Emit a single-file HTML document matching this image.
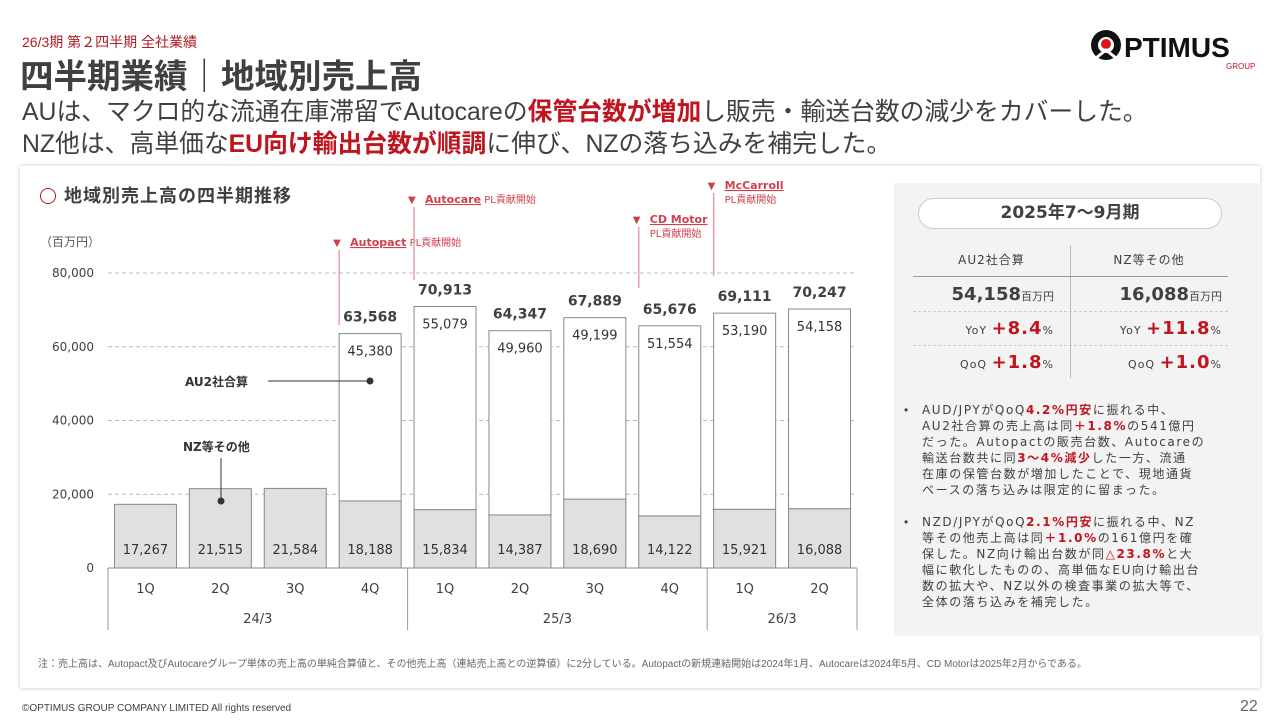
<!DOCTYPE html>
<html><head><meta charset="utf-8">
<style>
*{margin:0;padding:0;box-sizing:border-box}
body{width:1280px;height:720px;background:#fff;position:relative;overflow:hidden;font-family:"Liberation Sans","Noto Sans CJK JP",sans-serif;color:#404040}
.abs{position:absolute;white-space:nowrap}
.red{color:#c0141e;font-weight:bold}
#card{position:absolute;left:20px;top:166px;width:1240px;height:522px;background:#fff;box-shadow:0 0 4px rgba(0,0,0,.25)}
#panel{position:absolute;left:894px;top:183px;width:368px;height:453px;background:#f3f3f3}
.bul{font-family:"DejaVu Sans","Noto Sans CJK JP",sans-serif;font-size:12px;line-height:16px;letter-spacing:1.6px;color:#404040;position:absolute;left:922px;white-space:nowrap}
.bul .r{color:#c0141e;font-weight:bold}
.dv{font-family:"DejaVu Sans","Noto Sans CJK JP",sans-serif}
</style></head><body>
<div class="abs" style="left:22px;top:32px;font-size:14px;color:#b01c26">26/3期 第２四半期 全社業績</div>
<div class="abs" style="left:20px;top:49px;font-size:33.5px;font-weight:bold;color:#404040">四半期業績｜地域別売上高</div>
<div class="abs" style="left:22px;top:92px;font-size:24.8px;color:#404040">AUは、マクロ的な流通在庫滞留でAutocareの<span class="red">保管台数が増加</span>し販売・輸送台数の減少をカバーした。</div>
<div class="abs" style="left:22px;top:124px;font-size:24.8px;color:#404040">NZ他は、高単価な<span class="red">EU向け輸出台数が順調</span>に伸び、NZの落ち込みを補完した。</div>
<div class="abs" style="left:1088px;top:28px;">
 <svg width="170" height="44"><circle cx="18" cy="17" r="15" fill="#111"/><circle cx="18" cy="17" r="8" fill="#fff"/><circle cx="18" cy="16" r="5" fill="#e0101a"/><path d="M8 30 L18 22 L28 30" stroke="#fff" stroke-width="3" fill="none"/>
 <text x="36" y="29" font-family="Liberation Sans" font-weight="bold" font-size="28" fill="#111">PTIMUS</text>
 <text x="138" y="41" font-family="Liberation Sans" font-size="8" fill="#c0141e">GROUP</text></svg></div>
<div id="card"></div>
<div id="panel"></div>
<svg id="chart" class="abs" style="left:0;top:0" width="1280" height="720"></svg>
<div class="abs" style="left:40px;top:182px;font-size:18px;font-weight:bold;letter-spacing:1px;color:#404040"><span style="display:inline-block;width:16px;height:16px;border:1.5px solid #c0141e;border-radius:50%;vertical-align:-2px;margin-right:8px"></span>地域別売上高の四半期推移</div>
<div class="abs dv" style="left:918px;top:198px;width:304px;height:31px;border:1px solid #ccc;border-radius:16px;background:#fff;text-align:center;font-size:17px;font-weight:bold;line-height:29px;color:#404040">2025年7〜9月期</div>
<div class="abs" style="left:1070px;top:245px;width:1px;height:133px;background:#bbb"></div>
<div class="abs" style="left:913px;top:276px;width:315px;height:1px;background:#999"></div>
<div class="abs" style="left:913px;top:311px;width:315px;border-top:1px dashed #ccc"></div>
<div class="abs" style="left:913px;top:345px;width:315px;border-top:1px dashed #ccc"></div>
<div class="abs dv" style="left:913px;top:251px;width:157px;text-align:center;font-size:12px;letter-spacing:1px">AU2社合算</div>
<div class="abs dv" style="left:1070px;top:251px;width:158px;text-align:center;font-size:12px;letter-spacing:1px">NZ等その他</div>
<div class="abs dv" style="right:226px;top:284px;font-size:18px;font-weight:bold">54,158<span style="font-size:11px;font-weight:normal">百万円</span></div>
<div class="abs dv" style="right:58px;top:284px;font-size:18px;font-weight:bold">16,088<span style="font-size:11px;font-weight:normal">百万円</span></div>
<div class="abs dv" style="right:226px;top:318px;font-size:11px;letter-spacing:1px">YoY <span class="red" style="font-size:18px">+8.4</span>%</div>
<div class="abs dv" style="right:58px;top:318px;font-size:11px;letter-spacing:1px">YoY <span class="red" style="font-size:18px">+11.8</span>%</div>
<div class="abs dv" style="right:226px;top:352px;font-size:11px;letter-spacing:1px">QoQ <span class="red" style="font-size:18px">+1.8</span>%</div>
<div class="abs dv" style="right:58px;top:352px;font-size:11px;letter-spacing:1px">QoQ <span class="red" style="font-size:18px">+1.0</span>%</div>
<div class="abs" style="left:904px;top:403px;font-size:12px">•</div>
<div class="bul" style="top:402px">AUD/JPYがQoQ<span class="r">4.2%円安</span>に振れる中、<br>AU2社合算の売上高は同<span class="r">＋1.8%</span>の541億円<br>だった。Autopactの販売台数、Autocareの<br>輸送台数共に同<span class="r">3〜4%減少</span>した一方、流通<br>在庫の保管台数が増加したことで、現地通貨<br>ベースの落ち込みは限定的に留まった。</div>
<div class="abs" style="left:904px;top:515px;font-size:12px">•</div>
<div class="bul" style="top:514px">NZD/JPYがQoQ<span class="r">2.1%円安</span>に振れる中、NZ<br>等その他売上高は同<span class="r">＋1.0%</span>の161億円を確<br>保した。NZ向け輸出台数が同<span class="r">△23.8%</span>と大<br>幅に軟化したものの、高単価なEU向け輸出台<br>数の拡大や、NZ以外の検査事業の拡大等で、<br>全体の落ち込みを補完した。</div>
<div class="abs" style="left:38px;top:655px;font-size:10px;color:#666">注：売上高は、Autopact及びAutocareグループ単体の売上高の単純合算値と、その他売上高（連結売上高との逆算値）に2分している。Autopactの新規連結開始は2024年1月、Autocareは2024年5月、CD Motorは2025年2月からである。</div>
<div class="abs" style="left:22px;top:703px;font-size:10px;color:#404040">©OPTIMUS GROUP COMPANY LIMITED All rights reserved</div>
<div class="abs" style="left:1240px;top:698px;font-size:16px;color:#666">22</div>
<script>
const quarters=["1Q","2Q","3Q","4Q","1Q","2Q","3Q","4Q","1Q","2Q"];
const nzValues=[17267,21515,21584,18188,15834,14387,18690,14122,15921,16088];
const auValues=[0,0,0,45380,55079,49960,49199,51554,53190,54158];
const totals=[17267,21515,21584,63568,70913,64347,67889,65676,69111,70247];
const yTicks=[0,20000,40000,60000,80000];
const fiscalYears=["24/3","25/3","26/3"];
const fyCounts=[4,4,2];
const events=[["Autopact",3],["Autocare",4],["CD Motor",7],["McCarroll",8]];
const NS="http://www.w3.org/2000/svg";
const svg=document.getElementById('chart');
const x0=108,x1=857,y0=568,yTop=273,yMax=80000;
const step=(x1-x0)/quarters.length;
const yS=v=>y0-(v/yMax)*(y0-yTop);
const xC=i=>x0+step*(i+0.5);
function mk(t,a,txt){const e=document.createElementNS(NS,t);for(const k in a)e.setAttribute(k,a[k]);if(txt!==undefined)e.textContent=txt;svg.appendChild(e);return e;}
const F='DejaVu Sans, Noto Sans CJK JP, sans-serif';
yTicks.forEach(v=>{
 if(v>0){const g=mk('line',{x1:x0,x2:x1,y1:yS(v),y2:yS(v),stroke:'#bbb','stroke-dasharray':'4 3'});
 
 }
 const t=mk('text',{x:94,y:yS(v)+4,'text-anchor':'end','font-size':12,fill:'#404040','font-family':F},v.toLocaleString('en-US'));
 
 
});
const yu=mk('text',{x:40,y:246,'font-size':12,fill:'#555','font-family':F},'（百万円）');


const bw=62;
quarters.forEach((q,i)=>{
 const cx=xC(i);
 const nr=mk('rect',{x:cx-bw/2,y:yS(nzValues[i]),width:bw,height:y0-yS(nzValues[i]),fill:'#e0e0e0',stroke:'#888','stroke-width':1});
 
 
 const nl=mk('text',{x:cx,y:554,'text-anchor':'middle','font-size':13,fill:'#333','font-family':F},nzValues[i].toLocaleString('en-US'));
 
 
 const tot=nzValues[i]+auValues[i];
 if(auValues[i]>0){
  const ar=mk('rect',{x:cx-bw/2,y:yS(tot),width:bw,height:yS(nzValues[i])-yS(tot),fill:'#fff',stroke:'#888','stroke-width':1});
  
  
  const al=mk('text',{x:cx,y:yS(tot)+22,'text-anchor':'middle','font-size':13,fill:'#333','font-family':F},auValues[i].toLocaleString('en-US'));
  
  
  const tl=mk('text',{x:cx,y:yS(tot)-12,'text-anchor':'middle','font-size':14,'font-weight':'bold',fill:'#404040','font-family':F},totals[i].toLocaleString('en-US'));
  
  
 }
 const ql=mk('text',{x:cx,y:593,'text-anchor':'middle','font-size':13,fill:'#404040','font-family':F},q);
 
 
});
const ax=mk('line',{x1:x0,x2:x1,y1:y0,y2:y0,stroke:'#888'});


let idx=0;
[0].concat(fyCounts).forEach((c,k)=>{idx+=c;const xx=x0+idx*step;
 const s=mk('line',{x1:xx,x2:xx,y1:y0,y2:630,stroke:'#999'});
 
 });
idx=0;
fiscalYears.forEach((fy,k)=>{const xm=x0+(idx+fyCounts[k]/2)*step;idx+=fyCounts[k];
 const t=mk('text',{x:xm,y:623,'text-anchor':'middle','font-size':13,fill:'#404040','font-family':F},fy);
 
 });
const evY=[[242,325],[199,280],[219,288],[185,276]];
events.forEach((ev,k)=>{
 const i=ev[1];const lx=xC(i)-bw/2;const ty=evY[k][0];
 const ln=mk('line',{x1:lx,x2:lx,y1:ty+8,y2:evY[k][1],stroke:'#e8a0a6','stroke-width':1.5});
 
 
 const tri=mk('text',{x:lx-6,y:ty+4,'font-size':10,fill:'#d0404c','font-family':F},'▼');
 
 
 const t=mk('text',{x:lx+11,y:ty+4,'font-size':11,fill:'#d0404c','font-family':F});
 
 
 const b=document.createElementNS(NS,'tspan');b.setAttribute('font-weight','bold');b.setAttribute('text-decoration','underline');b.textContent=ev[0];t.appendChild(b);
 if(k<2){const s=document.createElementNS(NS,'tspan');s.setAttribute('font-size','10');s.textContent=' PL貢献開始';t.appendChild(s);}
 else{const s=mk('text',{x:lx+11,y:ty+18,'font-size':10,fill:'#d0404c','font-family':F},'PL貢献開始');
 
 }
});
const auT=mk('text',{x:185,y:386,'font-size':12,'font-weight':'bold',fill:'#333','font-family':F},'AU2社合算');


mk('line',{x1:268,x2:370,y1:381,y2:381,stroke:'#333'});
mk('circle',{cx:370,cy:381,r:3.5,fill:'#333'});
const nzT=mk('text',{x:183,y:451,'font-size':12,'font-weight':'bold',fill:'#333','font-family':F},'NZ等その他');


mk('line',{x1:221,x2:221,y1:458,y2:501,stroke:'#333'});
mk('circle',{cx:221,cy:501,r:3.5,fill:'#333'});
</script>
</body></html>
